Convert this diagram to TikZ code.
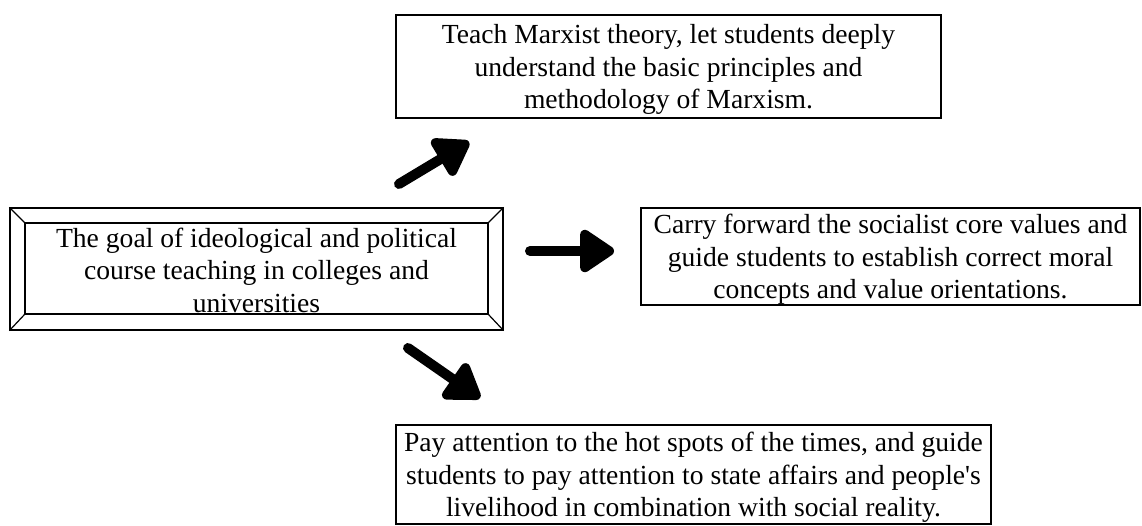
\documentclass[tikz,border=0pt]{standalone}
\usepackage{fontspec}
\setmainfont{Liberation Serif}
\usetikzlibrary{arrows.meta}
\tikzset{
  box/.style={draw, line width=1.2pt, inner sep=0pt, align=center, font=\fontsize{27.6}{32.5}\selectfont},
  bigarrow/.style={line width=10pt, line cap=round, -{Triangle[length=38pt,width=48pt,round]}},
}
\begin{document}
\begin{tikzpicture}[x=1pt,y=-1pt]
\useasboundingbox (0,0) rectangle (1142,525);
% left bevel box
\node[box, minimum width=493pt, minimum height=122pt] (goal) at (256.5,269) {};
\coordinate (gi1) at (25,223);
\coordinate (gi2) at (488,223);
\coordinate (gi3) at (488,314);
\coordinate (gi4) at (25,314);
\draw[line width=1.2pt] (gi1) -- (gi2) -- (gi3) -- (gi4) -- cycle;
\draw[line width=1.2pt] (goal.north west) -- (gi1) (goal.north east) -- (gi2) (goal.south east) -- (gi3) (goal.south west) -- (gi4);
\node[align=center, inner sep=0pt, font=\fontsize{27.6}{32.5}\selectfont] (goaltext) at (256.5,270) {The goal of ideological and political\\course teaching in colleges and\\universities};
% other boxes
\node[box, minimum width=545pt, minimum height=103pt, text depth=-4pt] (top) at (668.5,66.5) {Teach Marxist theory, let students deeply\\understand the basic principles and\\methodology of Marxism.};
\node[box, minimum width=499pt, minimum height=97pt, text depth=-4pt] (right) at (890.5,256.5) {Carry forward the socialist core values and\\guide students to establish correct moral\\concepts and value orientations.};
\node[box, minimum width=595pt, minimum height=99pt, text depth=-2pt] (bottom) at (693.5,474.5) {Pay attention to the hot spots of the times, and guide\\students to pay attention to state affairs and people\textquotesingle s\\livelihood in combination with social reality.};
% arrows
\coordinate (a1s) at (399,184);
\coordinate (a1e) at (469,142);
\coordinate (a2s) at (530,251);
\coordinate (a2e) at (614,251);
\coordinate (a3s) at (408,348);
\coordinate (a3e) at (480,398);
\draw[bigarrow] (a1s) -- (a1e);
\draw[bigarrow] (a2s) -- (a2e);
\draw[bigarrow] (a3s) -- (a3e);
\end{tikzpicture}
\end{document}
